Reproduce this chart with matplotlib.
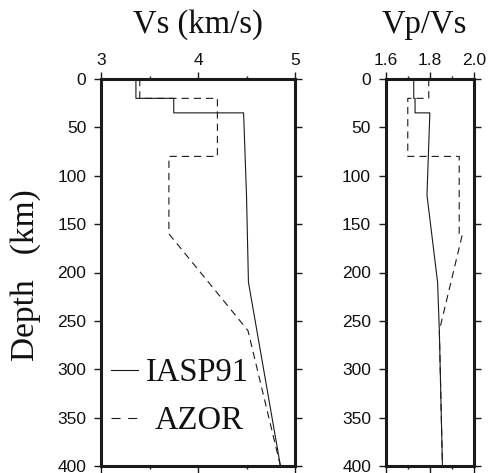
import matplotlib
matplotlib.use("Agg")
import matplotlib.pyplot as plt
from matplotlib.ticker import FixedLocator

# ---- data ----
iasp_vs_depth = [0, 20, 20, 35, 35, 120, 210, 400]
iasp_vs = [3.36, 3.36, 3.75, 3.75, 4.47, 4.50, 4.52, 4.85]

azor_vs_depth = [0, 20, 20, 80, 80, 160, 260, 400]
azor_vs = [3.40, 3.40, 4.20, 4.20, 3.70, 3.70, 4.515, 4.85]

iasp_vpvs_depth = [0, 20, 20, 35, 35, 120, 210, 260, 400]
iasp_vpvs = [1.727, 1.727, 1.733, 1.733, 1.800, 1.787, 1.835, 1.843, 1.857]

azor_vpvs_depth = [0, 20, 20, 80, 80, 160, 160, 260, 400]
azor_vpvs = [1.795, 1.795, 1.700, 1.700, 1.933, 1.933, 1.948, 1.843, 1.857]

vs_ticks = [3, 4, 5]
vpvs_ticks = [1.6, 1.8, 2.0]
depth_ticks = [0, 50, 100, 150, 200, 250, 300, 350, 400]

plt.rcParams['lines.scale_dashes'] = False
SANS = ['Liberation Sans', 'DejaVu Sans']
SERIF = ['Liberation Serif', 'DejaVu Serif']

fig = plt.figure(figsize=(4.9, 4.73), dpi=100)
W, H = 490, 473
ax1 = fig.add_axes([101 / W, (H - 466) / H, 194 / W, 387 / H])
ax2 = fig.add_axes([385.7 / W, (H - 466) / H, 88.3 / W, 387 / H])

dash = (0, (5.2, 3.6))
lw = 0.8
col = '#1a1a1a'

ax1.plot(iasp_vs, iasp_vs_depth, color=col, lw=lw)
ax1.plot(azor_vs, azor_vs_depth, color=col, lw=lw, linestyle=dash)
ax2.plot(iasp_vpvs, iasp_vpvs_depth, color=col, lw=lw)
ax2.plot(azor_vpvs, azor_vpvs_depth, color=col, lw=lw, linestyle=dash)

for ax, xlim, ticks, minor in ((ax1, (3, 5), vs_ticks, [3.5, 4.5]),
                                (ax2, (1.6, 2.0), vpvs_ticks, [1.7, 1.9])):
    ax.set_xlim(*xlim)
    ax.set_ylim(400, 0)
    ax.xaxis.set_major_locator(FixedLocator(ticks))
    ax.xaxis.set_minor_locator(FixedLocator(minor))
    ax.yaxis.set_major_locator(FixedLocator(depth_ticks))
    ax.set_xticklabels(['%g' % t if ax is ax1 else '%.1f' % t for t in ticks])
    ax.set_yticklabels([str(t) for t in depth_ticks])
    ax.tick_params(axis='x', which='both', direction='out', top=True, bottom=True,
                   labeltop=True, labelbottom=False, width=1.0, color=col)
    ax.tick_params(axis='x', which='major', length=5, pad=3.2, labelsize=12.5)
    ax.tick_params(axis='x', which='minor', length=2.5)
    ax.tick_params(axis='y', which='major', direction='out', left=True, right=True,
                   labelleft=True, labelright=False, length=5, width=1.0,
                   pad=5.5, labelsize=12.5, color=col)
    for lab in ax.get_xticklabels() + ax.get_yticklabels():
        lab.set_family(SANS)
        lab.set_color('#111111')
    for sp in ax.spines.values():
        sp.set_linewidth(2.2)
        sp.set_color(col)

# titles
ax1.text(0.5, 1 + 46 / 387, 'Vs (km/s)', transform=ax1.transAxes, ha='center',
         va='baseline', fontsize=23.5, family=SERIF, color='#111111')
ax2.text((424.7 - 385.7) / 88.3, 1 + 46 / 387, 'Vp/Vs', transform=ax2.transAxes,
         ha='center', va='baseline', fontsize=23.5, family=SERIF, color='#111111')

# y label
fig.text(26 / W, 1 - 275 / H, 'Depth   (km)', rotation=90, ha='center', va='center',
         fontsize=24, family=SERIF, color='#111111')

# legend (manual, in axes coords)
def ax_xy(px, py):
    return ((px - 101) / 194, (466 - py) / 387)

x0, y0 = ax_xy(111, 370)
x1, _ = ax_xy(138, 370)
ax1.plot([x0, x1], [y0, y0], transform=ax1.transAxes, color=col, lw=lw)
x0, y0 = ax_xy(111, 418)
ax1.plot([x0, x1], [y0, y0], transform=ax1.transAxes, color=col, lw=lw,
         linestyle=(0, (6.5, 5.5)))
tx, ty = ax_xy(197.5, 381)
ax1.text(tx, ty, 'IASP91', transform=ax1.transAxes, ha='center', va='baseline',
         fontsize=23.5, family=SERIF, color='#111111')
tx, ty = ax_xy(199, 429.3)
ax1.text(tx, ty, 'AZOR', transform=ax1.transAxes, ha='center', va='baseline',
         fontsize=23.5, family=SERIF, color='#111111')

fig.savefig('out.png', dpi=100)
